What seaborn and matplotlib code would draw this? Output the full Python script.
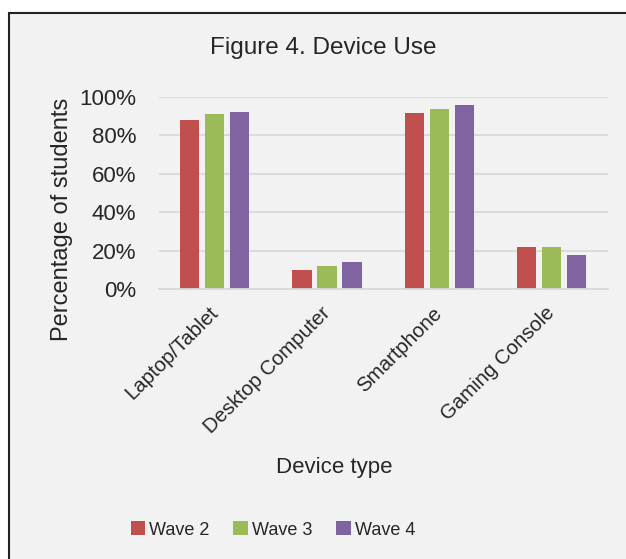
import pandas as pd
import matplotlib
matplotlib.use('Agg')
import matplotlib.pyplot as plt
import seaborn as sns
from matplotlib.patches import Rectangle
from matplotlib.ticker import FuncFormatter

# Data (percent of students)
devices = ['Laptop/Tablet', 'Desktop Computer', 'Smartphone', 'Gaming Console']
waves = ['Wave 2', 'Wave 3', 'Wave 4']
wave2 = [88, 10, 91.5, 22]
wave3 = [91, 12, 93.5, 22]
wave4 = [92, 14, 95.5, 18]
colors = ['#C0504D', '#9BBB59', '#8064A2']

sns.set_style('white')
plt.rcParams['font.family'] = ['Liberation Sans', 'DejaVu Sans']

rows = []
for wave, vals in zip(waves, [wave2, wave3, wave4]):
    for dev, v in zip(devices, vals):
        rows.append({'device': dev, 'wave': wave, 'pct': v})
df = pd.DataFrame(rows)

W, H = 626, 559
fig = plt.figure(figsize=(W / 100, H / 100), dpi=100, facecolor='white')

# Chart area frame (grey background with dark border, cropped at right/bottom)
frame = Rectangle((9 / W, -0.05), 1.2, 1 - 13 / H + 0.05, transform=fig.transFigure,
                  facecolor='#F2F2F2', edgecolor='#222222', linewidth=1.5, zorder=-1)
fig.add_artist(frame)

ax = fig.add_axes([158.7 / W, 1 - 289.3 / H, 449 / W, 192.6 / H])
ax.set_facecolor('none')

sns.barplot(data=df, x='device', y='pct', hue='wave', order=devices, hue_order=waves,
            palette=colors, width=0.668, linewidth=0, saturation=1, ax=ax, legend=True)

# leave small gaps between bars inside each group
for bar in ax.patches:
    w = bar.get_width()
    if w > 0:
        bar.set_x(bar.get_x() + w * 0.115)
        bar.set_width(w * 0.77)

ax.set_ylim(0, 100)
ax.set_yticks([0, 20, 40, 60, 80, 100])
ax.yaxis.set_major_formatter(FuncFormatter(lambda v, p: f'{v:.0f}%'))
ax.grid(axis='y', color='#D9D9D9', linewidth=1.3)
ax.set_axisbelow(True)
for s in ['top', 'right', 'left']:
    ax.spines[s].set_visible(False)
ax.spines['bottom'].set_color('#D9D9D9')
ax.spines['bottom'].set_linewidth(1.3)
ax.tick_params(axis='both', length=0)
ax.tick_params(axis='y', labelsize=16, pad=16)
ax.set_xlabel('')
ax.set_ylabel('')
plt.setp(ax.get_xticklabels(), rotation=45, ha='right', va='center',
         rotation_mode='anchor', fontsize=14.7)
ax.tick_params(axis='x', pad=15)

handles, labels = ax.get_legend_handles_labels()
ax.legend_.remove()
fig.legend(handles, labels, loc='center', bbox_to_anchor=(273 / W, 1 - 530 / H),
           ncol=3, frameon=False, fontsize=13, handlelength=0.8, handleheight=0.8,
           handletextpad=0.25, columnspacing=1.3)

fig.text(323 / W, 1 - 48 / H, 'Figure 4. Device Use', ha='center', va='center', fontsize=17.5)
fig.text(62 / W, 1 - 219 / H, 'Percentage of students', rotation=90,
         ha='center', va='center', fontsize=17)
fig.text(334 / W, 1 - 467 / H, 'Device type', ha='center', va='center', fontsize=16)

fig.savefig('out.png', dpi=100, facecolor='white')
